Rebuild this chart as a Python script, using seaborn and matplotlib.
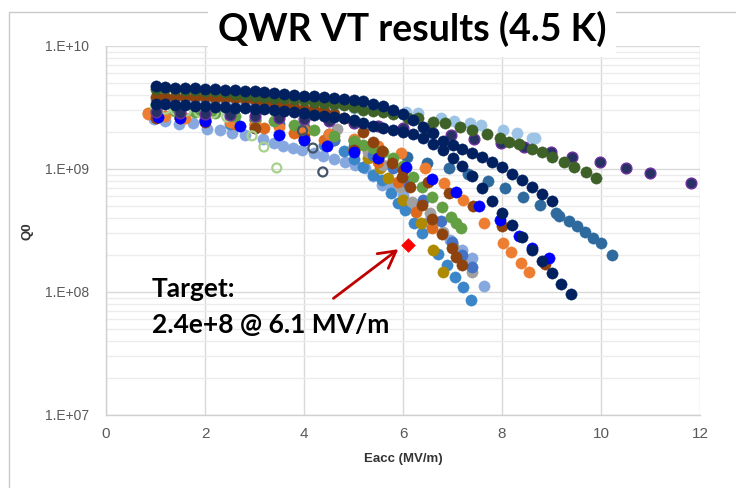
import matplotlib
matplotlib.use("Agg")
import matplotlib.pyplot as plt
from matplotlib.patches import Rectangle
from matplotlib.ticker import LogLocator, FixedLocator, NullFormatter
import seaborn as sns
import pandas as pd

# ---- vertical-test results: accelerating field (MV/m) vs. Q0 ----
navy_a_e = [1.0, 1.2, 1.4, 1.6, 1.8, 2.0, 2.2, 2.4, 2.6, 2.8, 3.0, 3.2, 3.4, 3.6, 3.8, 4.0,
            4.2, 4.4, 4.6, 4.8, 5.0, 5.2, 5.4, 5.6, 5.8, 6.0, 6.2, 6.4, 6.6, 6.8, 7.0, 7.2,
            7.4, 7.6, 7.8, 8.0, 8.2, 8.4, 8.6, 8.8, 9.0]
navy_a_q = [4.73e9, 4.65e9, 4.56e9, 4.56e9, 4.56e9, 4.47e9, 4.47e9, 4.39e9, 4.39e9, 4.31e9,
            4.31e9, 4.23e9, 4.15e9, 4.07e9, 4.0e9, 3.92e9, 3.92e9, 3.85e9, 3.78e9, 3.71e9,
            3.64e9, 3.57e9, 3.38e9, 3.25e9, 3.02e9, 2.80e9, 2.50e9, 2.2e9, 1.96e9, 1.69e9,
            1.57e9, 1.46e9, 1.35e9, 1.25e9, 1.14e9, 1.04e9, 9.1e8, 8.1e8, 7.1e8, 6.3e8, 5.5e8]

navy_b_e = [1.0, 1.2, 1.4, 1.6, 1.8, 2.0, 2.2, 2.4, 2.6, 2.8, 3.0, 3.2, 3.4, 3.6, 3.8, 4.0,
            4.2, 4.4, 4.6, 4.8, 5.0, 5.2, 5.4, 5.6, 5.8, 6.0, 6.2, 6.4, 6.6, 6.8, 7.0, 7.2,
            7.4, 7.6, 7.8, 8.0, 8.2, 8.4, 8.6, 8.8, 9.0, 9.2, 9.4]
navy_b_q = [3.38e9, 3.38e9, 3.31e9, 3.31e9, 3.25e9, 3.25e9, 3.19e9, 3.19e9, 3.13e9, 3.13e9,
            3.07e9, 3.07e9, 3.02e9, 2.96e9, 2.91e9, 2.85e9, 2.75e9, 2.70e9, 2.65e9, 2.60e9,
            2.50e9, 2.36e9, 2.24e9, 2.16e9, 2.08e9, 2.0e9, 1.93e9, 1.79e9, 1.60e9, 1.43e9,
            1.23e9, 1.06e9, 8.77e8, 7.01e8, 5.5e8, 4.4e8, 3.5e8, 2.8e8, 2.2e8, 1.79e8,
            1.43e8, 1.16e8, 9.6e7]

green_dk_e = [1.0, 1.2, 1.4, 1.6, 1.8, 2.0, 2.2, 2.4, 2.6, 2.8, 3.0, 3.2, 3.4, 3.6, 3.8, 4.0,
              4.2, 4.4, 4.6, 4.8, 5.0, 5.2, 5.4, 5.6, 5.8, 6.1, 6.3, 6.6, 6.85, 7.15, 7.4,
              7.7, 7.95, 8.15, 8.35, 8.6, 8.8, 9.0, 9.25, 9.45, 9.7, 9.9]
green_dk_q = [4.47e9, 4.56e9, 4.47e9, 4.39e9, 4.39e9, 4.31e9, 4.31e9, 4.23e9, 4.07e9, 4.0e9,
              3.92e9, 3.85e9, 3.78e9, 3.78e9, 3.71e9, 3.64e9, 3.51e9, 3.44e9, 3.38e9, 3.31e9,
              3.19e9, 3.02e9, 2.96e9, 2.91e9, 2.80e9, 2.60e9, 2.60e9, 2.41e9, 2.36e9, 2.2e9,
              2.08e9, 1.93e9, 1.79e9, 1.66e9, 1.60e9, 1.46e9, 1.37e9, 1.25e9, 1.14e9, 1.04e9,
              9.46e8, 8.45e8]

purple_e = [1.0, 1.5, 2.0, 2.5, 3.0, 3.5, 4.0, 4.5, 5.0, 5.5, 6.0, 6.5, 6.96, 7.44, 7.98,
            8.45, 8.99, 9.41, 9.97, 10.5, 10.99, 11.82]
purple_q = [2.91e9, 2.85e9, 2.80e9, 2.75e9, 2.70e9, 2.60e9, 2.55e9, 2.46e9, 2.36e9, 2.24e9,
            2.16e9, 2.04e9, 1.89e9, 1.75e9, 1.63e9, 1.51e9, 1.37e9, 1.25e9, 1.14e9, 1.02e9,
            9.3e8, 7.7e8]

lightblue_e = [1.0, 1.4, 1.8, 2.2, 2.6, 3.0, 3.4, 3.8, 4.2, 4.6, 5.0, 5.4, 5.8, 6.07, 6.31,
               6.76, 7.04, 7.35, 7.57, 8.03, 8.3, 8.6, 8.67]
lightblue_q = [3.64e9, 3.57e9, 3.51e9, 3.51e9, 3.44e9, 3.38e9, 3.38e9, 3.31e9, 3.25e9, 3.19e9,
               3.13e9, 3.07e9, 3.02e9, 2.91e9, 2.85e9, 2.60e9, 2.46e9, 2.36e9, 2.28e9, 2.08e9,
               1.96e9, 1.79e9, 1.79e9]

steel_e = [1.0, 1.5, 2.0, 2.5, 3.0, 3.5, 4.0, 4.5, 5.0, 5.5, 6.09, 6.48, 6.93, 7.31, 7.72,
           8.06, 8.43, 8.77, 9.09, 9.16, 9.35, 9.52, 9.67, 9.84, 10.0, 10.23]
steel_q = [3.02e9, 2.91e9, 2.80e9, 2.65e9, 2.50e9, 2.32e9, 2.16e9, 1.93e9, 1.72e9, 1.48e9,
           1.25e9, 1.12e9, 1.02e9, 9.1e8, 7.99e8, 7.01e8, 5.9e8, 5.1e8, 4.4e8, 4.15e8,
           3.78e8, 3.44e8, 3.07e8, 2.75e8, 2.5e8, 2.0e8]

orange_e = [0.85, 1.2, 1.6, 2.0, 2.5, 3.0, 3.5, 4.0, 4.5, 5.0, 5.5, 5.95, 6.44, 6.83, 7.22,
            7.64, 8.03, 8.18, 8.38, 8.55]
orange_q = [2.80e9, 2.70e9, 2.60e9, 2.50e9, 2.41e9, 2.32e9, 2.2e9, 2.08e9, 1.93e9, 1.75e9,
            1.54e9, 1.35e9, 1.02e9, 7.7e8, 5.6e8, 3.64e8, 2.5e8, 2.11e8, 1.72e8, 1.46e8]

orange2_e = [0.85, 1.5, 2.0, 2.6, 3.2, 3.8, 4.4, 5.0, 5.5, 5.9, 6.27, 6.58]
orange2_q = [2.85e9, 2.6e9, 2.5e9, 2.32e9, 2.16e9, 1.96e9, 1.72e9, 1.43e9, 1.14e9, 7.84e8,
             4.47e8, 3.31e8]

blue_e = [1.05, 1.5, 2.0, 2.7, 3.5, 4.0, 4.46, 5.0, 5.5, 6.06, 6.58, 7.07, 7.54, 7.95, 8.35,
          8.61, 8.94]
blue_q = [2.65e9, 2.6e9, 2.46e9, 2.24e9, 1.89e9, 1.72e9, 1.54e9, 1.37e9, 1.23e9, 1.04e9,
          8.3e8, 6.5e8, 5.0e8, 3.85e8, 2.85e8, 2.28e8, 1.89e8]

brown_a_e = [1.0, 1.2, 1.4, 1.6, 1.8, 2.0, 2.2, 2.4, 2.6, 2.8, 3.0, 3.2, 3.4, 3.6, 3.8, 4.0,
             4.2, 4.4, 4.6, 4.8, 5.0, 5.19, 5.39, 5.57, 5.77, 5.97, 6.14, 6.38, 6.58, 6.78,
             6.98, 7.08, 7.19]
brown_a_q = [3.85e9, 3.85e9, 3.85e9, 3.85e9, 3.85e9, 3.85e9, 3.78e9, 3.78e9, 3.78e9, 3.71e9,
             3.64e9, 3.57e9, 3.44e9, 3.31e9, 3.19e9, 3.07e9, 3.02e9, 2.96e9, 2.80e9, 2.60e9,
             2.41e9, 2.0e9, 1.66e9, 1.40e9, 1.12e9, 8.6e8, 7.14e8, 5.1e8, 3.93e8, 2.96e8,
             2.28e8, 1.93e8, 1.66e8]

brown_b_e = [1.0, 2.0, 3.0, 4.0, 5.0, 5.5, 6.0, 6.5, 6.93, 7.42, 8.01, 8.87]
brown_b_q = [2.6e9, 2.41e9, 2.16e9, 1.79e9, 1.43e9, 1.23e9, 9.8e8, 7.84e8, 6.38e8, 5.0e8,
             3.44e8, 1.69e8]

green_e = [1.0, 1.4, 1.8, 2.2, 2.6, 3.0, 3.4, 3.8, 4.2, 4.6, 5.0, 5.2, 5.4, 5.6, 5.8, 6.0,
           6.2, 6.39, 6.58, 6.78, 6.97, 7.08, 7.17]
green_q = [3.02e9, 2.96e9, 2.91e9, 2.85e9, 2.70e9, 2.60e9, 2.46e9, 2.28e9, 2.08e9, 1.86e9,
           1.69e9, 1.57e9, 1.48e9, 1.37e9, 1.23e9, 1.06e9, 8.6e8, 7.14e8, 5.9e8, 4.9e8,
           4.07e8, 3.64e8, 3.31e8]

lgreen_open_e = [1.0, 1.2, 1.4, 1.62, 1.88, 2.17, 2.44, 2.95, 3.19, 3.45]
lgreen_open_q = [3.19e9, 3.07e9, 3.02e9, 2.96e9, 2.91e9, 2.85e9, 2.65e9, 1.86e9, 1.51e9, 1.02e9]

slate_open_e = [3.97, 4.18, 4.38]
slate_open_q = [2.05e9, 1.48e9, 9.46e8]

cornflower_e = [0.97, 1.2, 1.48, 1.75, 2.05, 2.3, 2.54, 2.8, 3.18, 3.4, 3.58, 3.78, 3.95, 4.2,
                4.39, 4.6, 4.83, 5.03, 5.23, 5.4, 5.57, 5.77, 6.01, 6.25, 6.5, 6.95, 7.19,
                7.39, 7.64]
cornflower_q = [2.55e9, 2.46e9, 2.32e9, 2.36e9, 2.12e9, 2.08e9, 1.96e9, 1.89e9, 1.75e9, 1.63e9,
                1.54e9, 1.48e9, 1.43e9, 1.35e9, 1.28e9, 1.21e9, 1.14e9, 1.08e9, 1.02e9, 8.77e8,
                7.4e8, 7.0e8, 6.1e8, 4.8e8, 3.7e8, 2.65e8, 2.2e8, 1.89e8, 1.12e8]

midblue_e = [1.0, 1.5, 2.0, 2.5, 3.0, 3.5, 4.0, 4.4, 4.8, 5.0, 5.2, 5.4, 5.58, 5.76, 5.9,
             6.04, 6.22, 6.38, 6.71, 6.89, 7.05, 7.21, 7.37]
midblue_q = [2.70e9, 2.6e9, 2.5e9, 2.32e9, 2.16e9, 1.93e9, 1.72e9, 1.57e9, 1.40e9, 1.20e9,
             1.04e9, 8.9e8, 8.14e8, 6.38e8, 5.29e8, 4.64e8, 3.64e8, 3.01e8, 2.04e8, 1.66e8,
             1.33e8, 1.10e8, 8.6e7]

royal_e = [1.0, 2.0, 3.0, 4.0, 4.6, 5.0, 5.4, 5.8, 6.1, 6.4, 6.76, 6.98, 7.2, 7.39]
royal_q = [2.75e9, 2.55e9, 2.32e9, 1.96e9, 1.72e9, 1.54e9, 1.30e9, 1.02e9, 7.7e8, 5.6e8,
           3.78e8, 2.55e8, 2.0e8, 1.6e8]

gray_e = [1.0, 2.0, 3.0, 4.0, 4.66, 5.0, 5.3, 5.6, 5.94, 6.18, 6.55, 6.8, 7.0, 7.2, 7.39]
gray_q = [2.91e9, 2.70e9, 2.5e9, 2.24e9, 2.12e9, 1.72e9, 1.37e9, 1.08e9, 7.14e8, 5.39e8,
          4.39e8, 3.07e8, 2.37e8, 1.82e8, 1.46e8]

gold_e = [1.0, 2.0, 3.0, 4.0, 4.6, 5.0, 5.3, 5.54, 5.7, 6.0, 6.36, 6.6, 6.81]
gold_q = [2.65e9, 2.46e9, 2.24e9, 1.93e9, 1.72e9, 1.48e9, 1.23e9, 1.02e9, 8.45e8, 5.6e8,
          3.64e8, 2.2e8, 1.46e8]

target_e = [6.1]
target_q = [2.4e8]

x_ticks = [0, 2, 4, 6, 8, 10, 12]
y_ticks = [1e7, 1e8, 1e9, 1e10]
y_tick_labels = ["1.E+07", "1.E+08", "1.E+09", "1.E+10"]

# (E, Q0, face colour, edge colour, hollow) in drawing order
series = [
    (cornflower_e, cornflower_q, "#86A8DF", None, False),
    (midblue_e, midblue_q, "#3A86C8", None, False),
    (gold_e, gold_q, "#AD8A00", None, False),
    (gray_e, gray_q, "#A0A0A0", None, False),
    (royal_e, royal_q, "#4472C4", None, False),
    (orange2_e, orange2_q, "#DD6A1C", None, False),
    (lightblue_e, lightblue_q, "#9DC3E6", None, False),
    (steel_e, steel_q, "#2E6A9E", None, False),
    (orange_e, orange_q, "#ED7D31", None, False),
    (green_e, green_q, "#63A043", None, False),
    (brown_b_e, brown_b_q, "#8E430F", None, False),
    (blue_e, blue_q, "#0000FF", None, False),
    (brown_a_e, brown_a_q, "#8E430F", None, False),
    (lgreen_open_e, lgreen_open_q, "#A9D18E", None, True),
    (purple_e, purple_q, "#283164", "#7030A0", False),
    (navy_b_e, navy_b_q, "#002060", None, False),
    (green_dk_e, green_dk_q, "#3D6126", None, False),
    (navy_a_e, navy_a_q, "#002060", None, False),
    (slate_open_e, slate_open_q, "#44546A", None, True),
]

sns.set_theme(style="white")
plt.rcParams["font.family"] = ["Liberation Sans", "DejaVu Sans"]

W, H = 736, 488
fig = plt.figure(figsize=(W / 100, H / 100), dpi=100)
ax = fig.add_axes([106 / W, 1 - 415 / H, 594 / W, 369 / H])

for e_vals, q_vals, face, edge, hollow in series:
    df = pd.DataFrame({"Eacc": e_vals, "Q0": q_vals})
    if hollow:
        sns.scatterplot(data=df, x="Eacc", y="Q0", ax=ax, s=42, marker="o",
                        facecolors="none", edgecolor=face, linewidth=1.6, zorder=3)
    elif edge is not None:
        sns.scatterplot(data=df, x="Eacc", y="Q0", ax=ax, s=60, marker="o",
                        color=face, edgecolor=edge, linewidth=1.0, zorder=3)
    else:
        sns.scatterplot(data=df, x="Eacc", y="Q0", ax=ax, s=66, marker="o",
                        color=face, edgecolor=face, linewidth=0.3, zorder=3)

# target point
sns.scatterplot(data=pd.DataFrame({"Eacc": target_e, "Q0": target_q}), x="Eacc", y="Q0",
                ax=ax, s=48, marker="D", color="#FF0000", edgecolor="#FF0000",
                linewidth=0.5, zorder=5)

ax.set_yscale("log")
ax.set_xlim(0, 12)
ax.set_ylim(1e7, 1e10)
ax.xaxis.set_major_locator(FixedLocator(x_ticks))
ax.yaxis.set_major_locator(FixedLocator(y_ticks))
ax.set_yticklabels(y_tick_labels)
ax.yaxis.set_minor_locator(LogLocator(base=10, subs=range(2, 10)))
ax.yaxis.set_minor_formatter(NullFormatter())

ax.grid(True, which="major", axis="both", color="#D9D9D9", linewidth=1.0, zorder=0)
ax.grid(True, which="minor", axis="y", color="#ECECEC", linewidth=1.0, zorder=0)
ax.set_axisbelow(True)
for side in ["top", "right"]:
    ax.spines[side].set_visible(False)
for side in ["left", "bottom"]:
    ax.spines[side].set_color("#D0D0D0")
    ax.spines[side].set_linewidth(1.0)
ax.tick_params(axis="both", which="both", length=0, colors="#595959")
ax.tick_params(axis="y", pad=12, labelsize=10)
ax.tick_params(axis="x", pad=9, labelsize=11)
for lab in ax.get_xticklabels():
    lab.set_family(["Liberation Sans Narrow", "Liberation Sans"])

ax.set_xlabel("Eacc (MV/m)", fontsize=9.5, fontweight="bold", color="#333333")
ax.xaxis.set_label_coords((403 - 106) / 594, -(453 - 415) / 369)
ax.set_ylabel("Q0", fontsize=9.5, fontweight="bold", color="#333333")
ax.yaxis.set_label_coords(-(106 - 33) / 594, (415 - 231) / 369)

# outer chart frame
fig.patches.append(Rectangle((9 / W, -0.05), 1.0, 1 - 12.5 / H + 0.05,
                             transform=fig.transFigure, fill=False,
                             edgecolor="#C8C8C8", linewidth=1.0, zorder=0))

fig.text(0.56, 1 - 29 / H, "QWR VT results (4.5 K)", ha="center", va="center",
         fontsize=27, fontweight="bold", family=["Lato", "DejaVu Sans"], color="black",
         bbox=dict(facecolor="white", edgecolor="none", pad=7))

fig.text(152 / W, 1 - 297 / H, "Target:", fontsize=19, fontweight="bold",
         family=["Lato", "DejaVu Sans"], ha="left", va="baseline", color="black")
fig.text(152 / W, 1 - 333 / H, "2.4e+8 @ 6.1 MV/m", fontsize=19, fontweight="bold",
         family=["Lato", "DejaVu Sans"], ha="left", va="baseline", color="black")

ax.annotate("", xy=(5.95, 2.3e8), xytext=(4.55, 8.6e7),
            arrowprops=dict(arrowstyle="->,head_length=1.0,head_width=0.55",
                            color="#C00000", lw=2.0))

fig.savefig("out.png", dpi=100)
